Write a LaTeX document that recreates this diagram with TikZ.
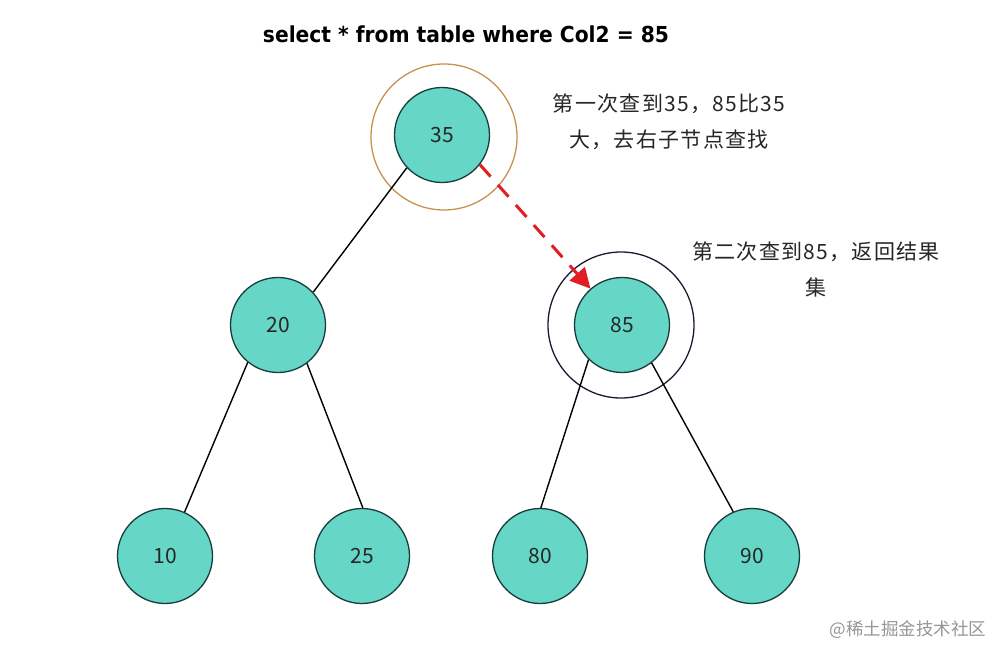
\documentclass[tikz,border=0pt]{standalone}
\usepackage{fontspec}
\usepackage{graphicx}
\setmainfont{Noto Sans CJK SC}
\newfontfamily\titlefont{DejaVu Sans}
\newfontfamily\notefont[LetterSpace=6]{Noto Sans CJK SC}
\usetikzlibrary{arrows.meta}
\definecolor{nodefill}{RGB}{102,214,198}
\definecolor{nodeborder}{RGB}{25,60,60}
\definecolor{ringA}{RGB}{200,145,80}
\definecolor{ringB}{RGB}{25,25,50}
\definecolor{arrowred}{RGB}{225,30,35}
\definecolor{wmgray}{RGB}{150,150,150}
\tikzset{
  treenode/.style={circle, draw=nodeborder, line width=1.3pt, fill=nodefill, minimum size=95pt, inner sep=0pt, font=\fontsize{21}{21}\selectfont, text=black!85},
  ringnode/.style={circle, line width=1.3pt, minimum size=146pt, inner sep=0pt},
  edge/.style={line width=1.4pt, black},
  note/.style={align=center, font=\notefont\fontsize{21}{36}\selectfont, text=black!85},
  searcharrow/.style={arrowred, line width=3pt, dash pattern=on 16pt off 11pt, -{Triangle[length=20pt,width=20pt]}}
}
\begin{document}
\begin{tikzpicture}[x=1pt,y=-1pt]
\useasboundingbox[fill=white] (0,0) rectangle (1008,660);
% rings
\node[ringnode, draw=ringA] (ring35) at (444,137) {};
\node[ringnode, draw=ringB] (ring85) at (621,325) {};
% edges (drawn first, nodes cover their ends)
\coordinate (c35) at (442,135);
\coordinate (c20) at (278,325);
\coordinate (c85) at (622,325);
% tree nodes
\node[treenode] (n35) at (c35) {35};
\node[treenode] (n20) at (c20) {20};
\node[treenode] (n85) at (c85) {85};
\node[treenode] (n10) at (165,556) {10};
\node[treenode] (n25) at (362,556) {25};
\node[treenode] (n80) at (540,556) {80};
\node[treenode] (n90) at (752,556) {90};
% edges
\draw[edge] (n35.-137) -- (n20.43);
\draw[edge] (n20.-129) -- (n10.66);
\draw[edge] (n20.-53) -- (n25.89);
\draw[edge] (n85.-134) -- (n80.89);
\draw[edge] (n85.-52) -- (n90.113);
% search arrow
\draw[searcharrow] (n35.-38) -- (n85.131);
% texts
\node[font=\titlefont\bfseries\fontsize{22}{22}\selectfont] (title) at (466,34) {\resizebox{406pt}{\height}{select * from table where Col2 = 85}};
\node[note] (note1) at (669,122) {第一次查到35，85比35\\大，去右子节点查找};
\node[note] (note2) at (816,269) {第二次查到85，返回结果\\集};
\node[font=\fontsize{17.5}{17.5}\selectfont, text=wmgray, anchor=east] (wm) at (990,630) {@稀土掘金技术社区};
\end{tikzpicture}
\end{document}
